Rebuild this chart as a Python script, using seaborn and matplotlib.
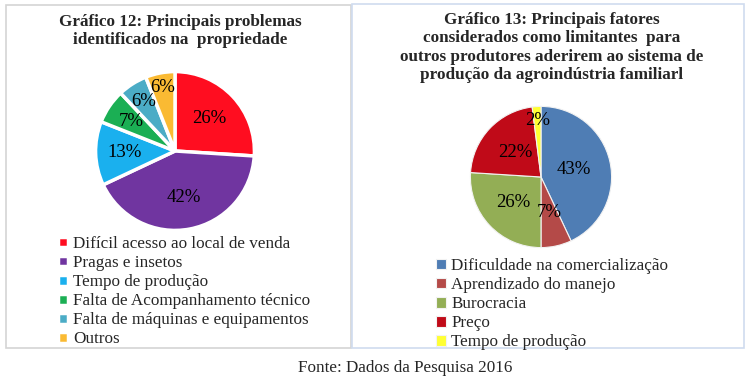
import numpy as np
import matplotlib
matplotlib.use('Agg')
import matplotlib.pyplot as plt
import seaborn as sns
from matplotlib.patches import Rectangle

sns.set_theme(style='white')
plt.rcParams['font.family'] = ['Liberation Serif', 'DejaVu Serif']

# Gráfico 12
probl_labels = ['Difícil acesso ao local de venda', 'Pragas e insetos', 'Tempo de produção',
                'Falta de Acompanhamento técnico', 'Falta de máquinas e equipamentos', 'Outros']
probl_vals = [26, 42, 13, 7, 6, 6]
probl_cores = ['#FF0D20', '#7035A0', '#1AB0EE', '#1BAF54', '#4BACC6', '#FABA33']

# Gráfico 13
fat_labels = ['Dificuldade na comercialização', 'Aprendizado do manejo', 'Burocracia',
              'Preço', 'Tempo de produção']
fat_vals = [43, 7, 26, 22, 2]
fat_cores = ['#4F7DB4', '#B44A48', '#93AE55', '#C00A18', '#FFFF33']

W, H = 751, 382
fig = plt.figure(figsize=(W / 100, H / 100), dpi=100)


def fx(px):
    return px / W


def fy(py):
    return 1 - py / H


# molduras
fig.patches.append(Rectangle((fx(6), fy(348)), fx(345), (343) / H, transform=fig.transFigure,
                             fill=False, edgecolor='#D4D4D4', linewidth=1.2))
fig.patches.append(Rectangle((fx(352), fy(348)), fx(392), (344) / H, transform=fig.transFigure,
                             fill=False, edgecolor='#CFDCEF', linewidth=1.2))


def torta(cx, cy, r, vals, cores, dists, lw, ec):
    ax = fig.add_axes([fx(cx - r), fy(cy + r), fx(2 * r), 2 * r / H])
    wedges, _ = ax.pie(vals, colors=cores, startangle=90, counterclock=False, radius=1,
                       wedgeprops=dict(edgecolor=ec, linewidth=lw))
    for w, v, d in zip(wedges, vals, dists):
        ang = np.deg2rad((w.theta1 + w.theta2) / 2)
        ax.text(d * np.cos(ang), d * np.sin(ang), f'{v}%', ha='center', va='center',
                fontsize=13.5, color='black')
    ax.set_xlim(-1.02, 1.02)
    ax.set_ylim(-1.02, 1.02)
    ax.set_aspect('equal')
    ax.axis('off')
    return ax, wedges


ax1, w1 = torta(175, 151, 81, probl_vals, probl_cores, [0.6, 0.6, 0.63, 0.66, 0.74, 0.82], 2.5, 'white')
ax2, w2 = torta(541, 177, 72, fat_vals, fat_cores, [0.48, 0.52, 0.53, 0.5, 0.8], 0.8, '#F2F2F2')

fig.text(fx(180), fy(31), 'Gráfico 12: Principais problemas\nidentificados na  propriedade',
         ha='center', va='center', fontsize=12.3, fontweight='bold', linespacing=1.22)
fig.text(fx(552), fy(47.5), 'Gráfico 13: Principais fatores\nconsiderados como limitantes  para\n'
         'outros produtores aderirem ao sistema de\nprodução da agroindústria familiarl',
         ha='center', va='center', fontsize=12.3, fontweight='bold', linespacing=1.22)

leg_kw = dict(frameon=False, fontsize=12.3, handlelength=0.6, handleheight=0.6,
              handletextpad=0.3, labelspacing=0.18, borderpad=0, borderaxespad=0)
fig.legend(w1, probl_labels, loc='upper left', bbox_to_anchor=(fx(58), fy(236)), **leg_kw)
fig.legend(w2, fat_labels, loc='upper left', bbox_to_anchor=(fx(436), fy(258)), **leg_kw)

fig.text(fx(405), fy(368), 'Fonte: Dados da Pesquisa 2016', ha='center', va='center', fontsize=12.3)

fig.savefig('out.png', dpi=100)
